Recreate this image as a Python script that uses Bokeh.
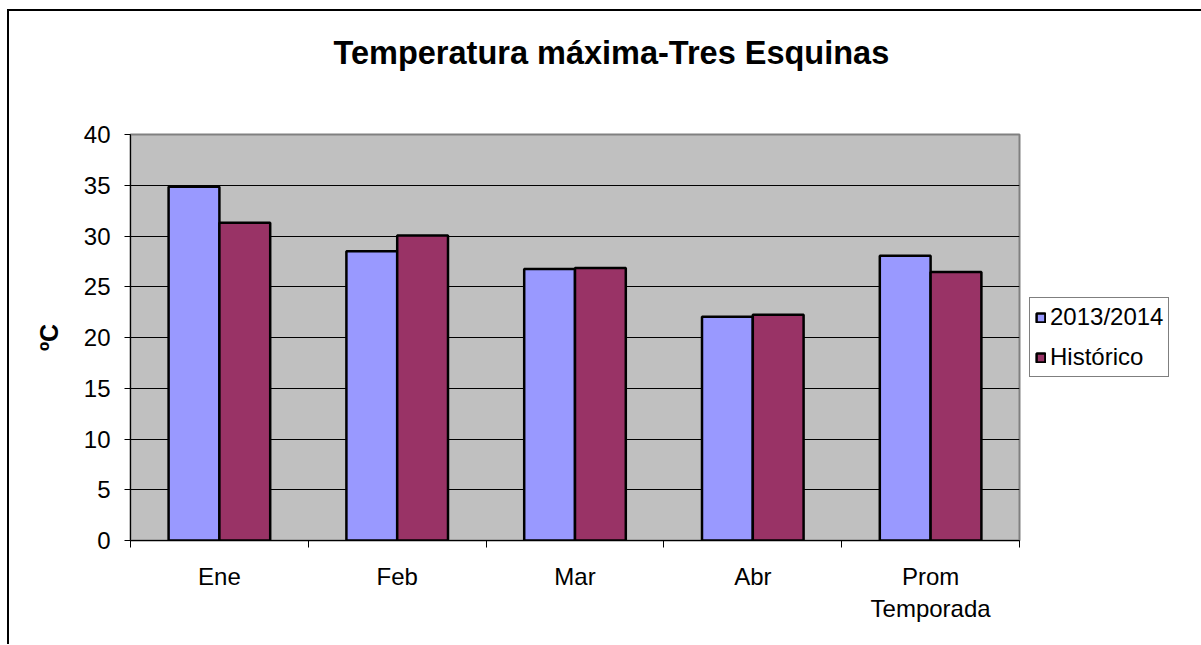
from bokeh.plotting import figure
from bokeh.models import Range1d, FixedTicker, Legend, LegendItem, Title, ColumnDataSource
from bokeh.embed import file_html
from bokeh.resources import INLINE

# ---- data ----
categories = ["Ene", "Feb", "Mar", "Abr", "Prom\nTemporada"]
series_names = ["2013/2014", "Histórico"]
values_2013 = [34.85, 28.5, 26.75, 22.05, 28.05]
values_hist = [31.3, 30.05, 26.85, 22.25, 26.45]
y_ticks = [0, 5, 10, 15, 20, 25, 30, 35, 40]
title_text = "Temperatura máxima-Tres Esquinas"
y_label = "ºC"

FONT = "Liberation Sans"
BLUE = "#9999FF"
PLUM = "#993366"

n = len(categories)
bar_w = 1 / 3.5
centers = [i + 0.5 for i in range(n)]

src = ColumnDataSource(dict(
    x1=[c - bar_w / 2 for c in centers],
    x2=[c + bar_w / 2 for c in centers],
    v1=values_2013,
    v2=values_hist,
))

p = figure(frame_width=889, frame_height=406, output_backend="svg", toolbar_location=None,
           x_range=Range1d(0, n), y_range=Range1d(0, 40),
           min_border_left=121, min_border_right=180,
           min_border_top=122, min_border_bottom=104)
p.styles = {"border-top": "2px solid black", "border-left": "2px solid black",
            "margin-left": "7px", "margin-top": "9px"}

p.background_fill_color = "#C0C0C0"
p.border_fill_color = "white"
p.outline_line_color = "#808080"
p.outline_line_width = 2

r1 = p.vbar(x="x1", top="v1", width=bar_w, bottom=0, source=src,
            fill_color=BLUE, line_color="black", line_width=2.5)
r2 = p.vbar(x="x2", top="v2", width=bar_w, bottom=0, source=src,
            fill_color=PLUM, line_color="black", line_width=2.5)

# grid
p.xgrid.grid_line_color = None
p.ygrid.ticker = FixedTicker(ticks=y_ticks)
p.ygrid.grid_line_color = "black"
p.ygrid.grid_line_width = 1

# y axis
ya = p.yaxis[0]
ya.ticker = FixedTicker(ticks=y_ticks)
ya.axis_line_color = "black"
ya.major_tick_line_color = "black"
ya.major_tick_out = 6
ya.major_tick_in = 0
ya.minor_tick_line_color = None
ya.major_label_standoff = 14
ya.major_label_text_font = FONT
ya.major_label_text_font_size = "24px"
ya.major_label_text_color = "black"
ya.axis_label = y_label
ya.axis_label_text_font = FONT
ya.axis_label_text_font_size = "25px"
ya.axis_label_text_font_style = "bold"
ya.axis_label_text_color = "black"
ya.axis_label_standoff = 18

# x axis
xa = p.xaxis[0]
xa.ticker = FixedTicker(ticks=centers, minor_ticks=list(range(n + 1)))
xa.major_label_overrides = {c: lab for c, lab in zip(centers, categories)}
xa.axis_line_color = "black"
xa.major_tick_line_color = None
xa.major_tick_out = 0
xa.major_tick_in = 0
xa.minor_tick_line_color = "black"
xa.minor_tick_out = 7
xa.minor_tick_in = 0
xa.major_label_standoff = 15
xa.major_label_text_font = FONT
xa.major_label_text_font_size = "24px"
xa.major_label_text_color = "black"

# spacer panel between frame and title (added first -> closest to the frame)
p.add_layout(Title(text=" ", standoff=40, text_font=FONT, text_font_size="1px",
                   text_color="white"), "above")
# title
p.add_layout(Title(text=title_text, align="left", offset=203, standoff=42,
                   text_font=FONT, text_font_size="32.5px", text_font_style="bold",
                   text_color="black"), "above")

# legend
legend = Legend(items=[LegendItem(label=series_names[0], renderers=[r1]),
                       LegendItem(label=series_names[1], renderers=[r2])],
                location="center_left", orientation="vertical",
                label_text_font=FONT, label_text_font_size="24px",
                label_text_color="black",
                glyph_width=11, glyph_height=11, label_standoff=4,
                padding=5, spacing=12, margin=10,
                border_line_color="black", border_line_width=1,
                background_fill_color="white", background_fill_alpha=1)
p.add_layout(legend, "right")

open("out.html", "w").write(file_html(p, INLINE))
